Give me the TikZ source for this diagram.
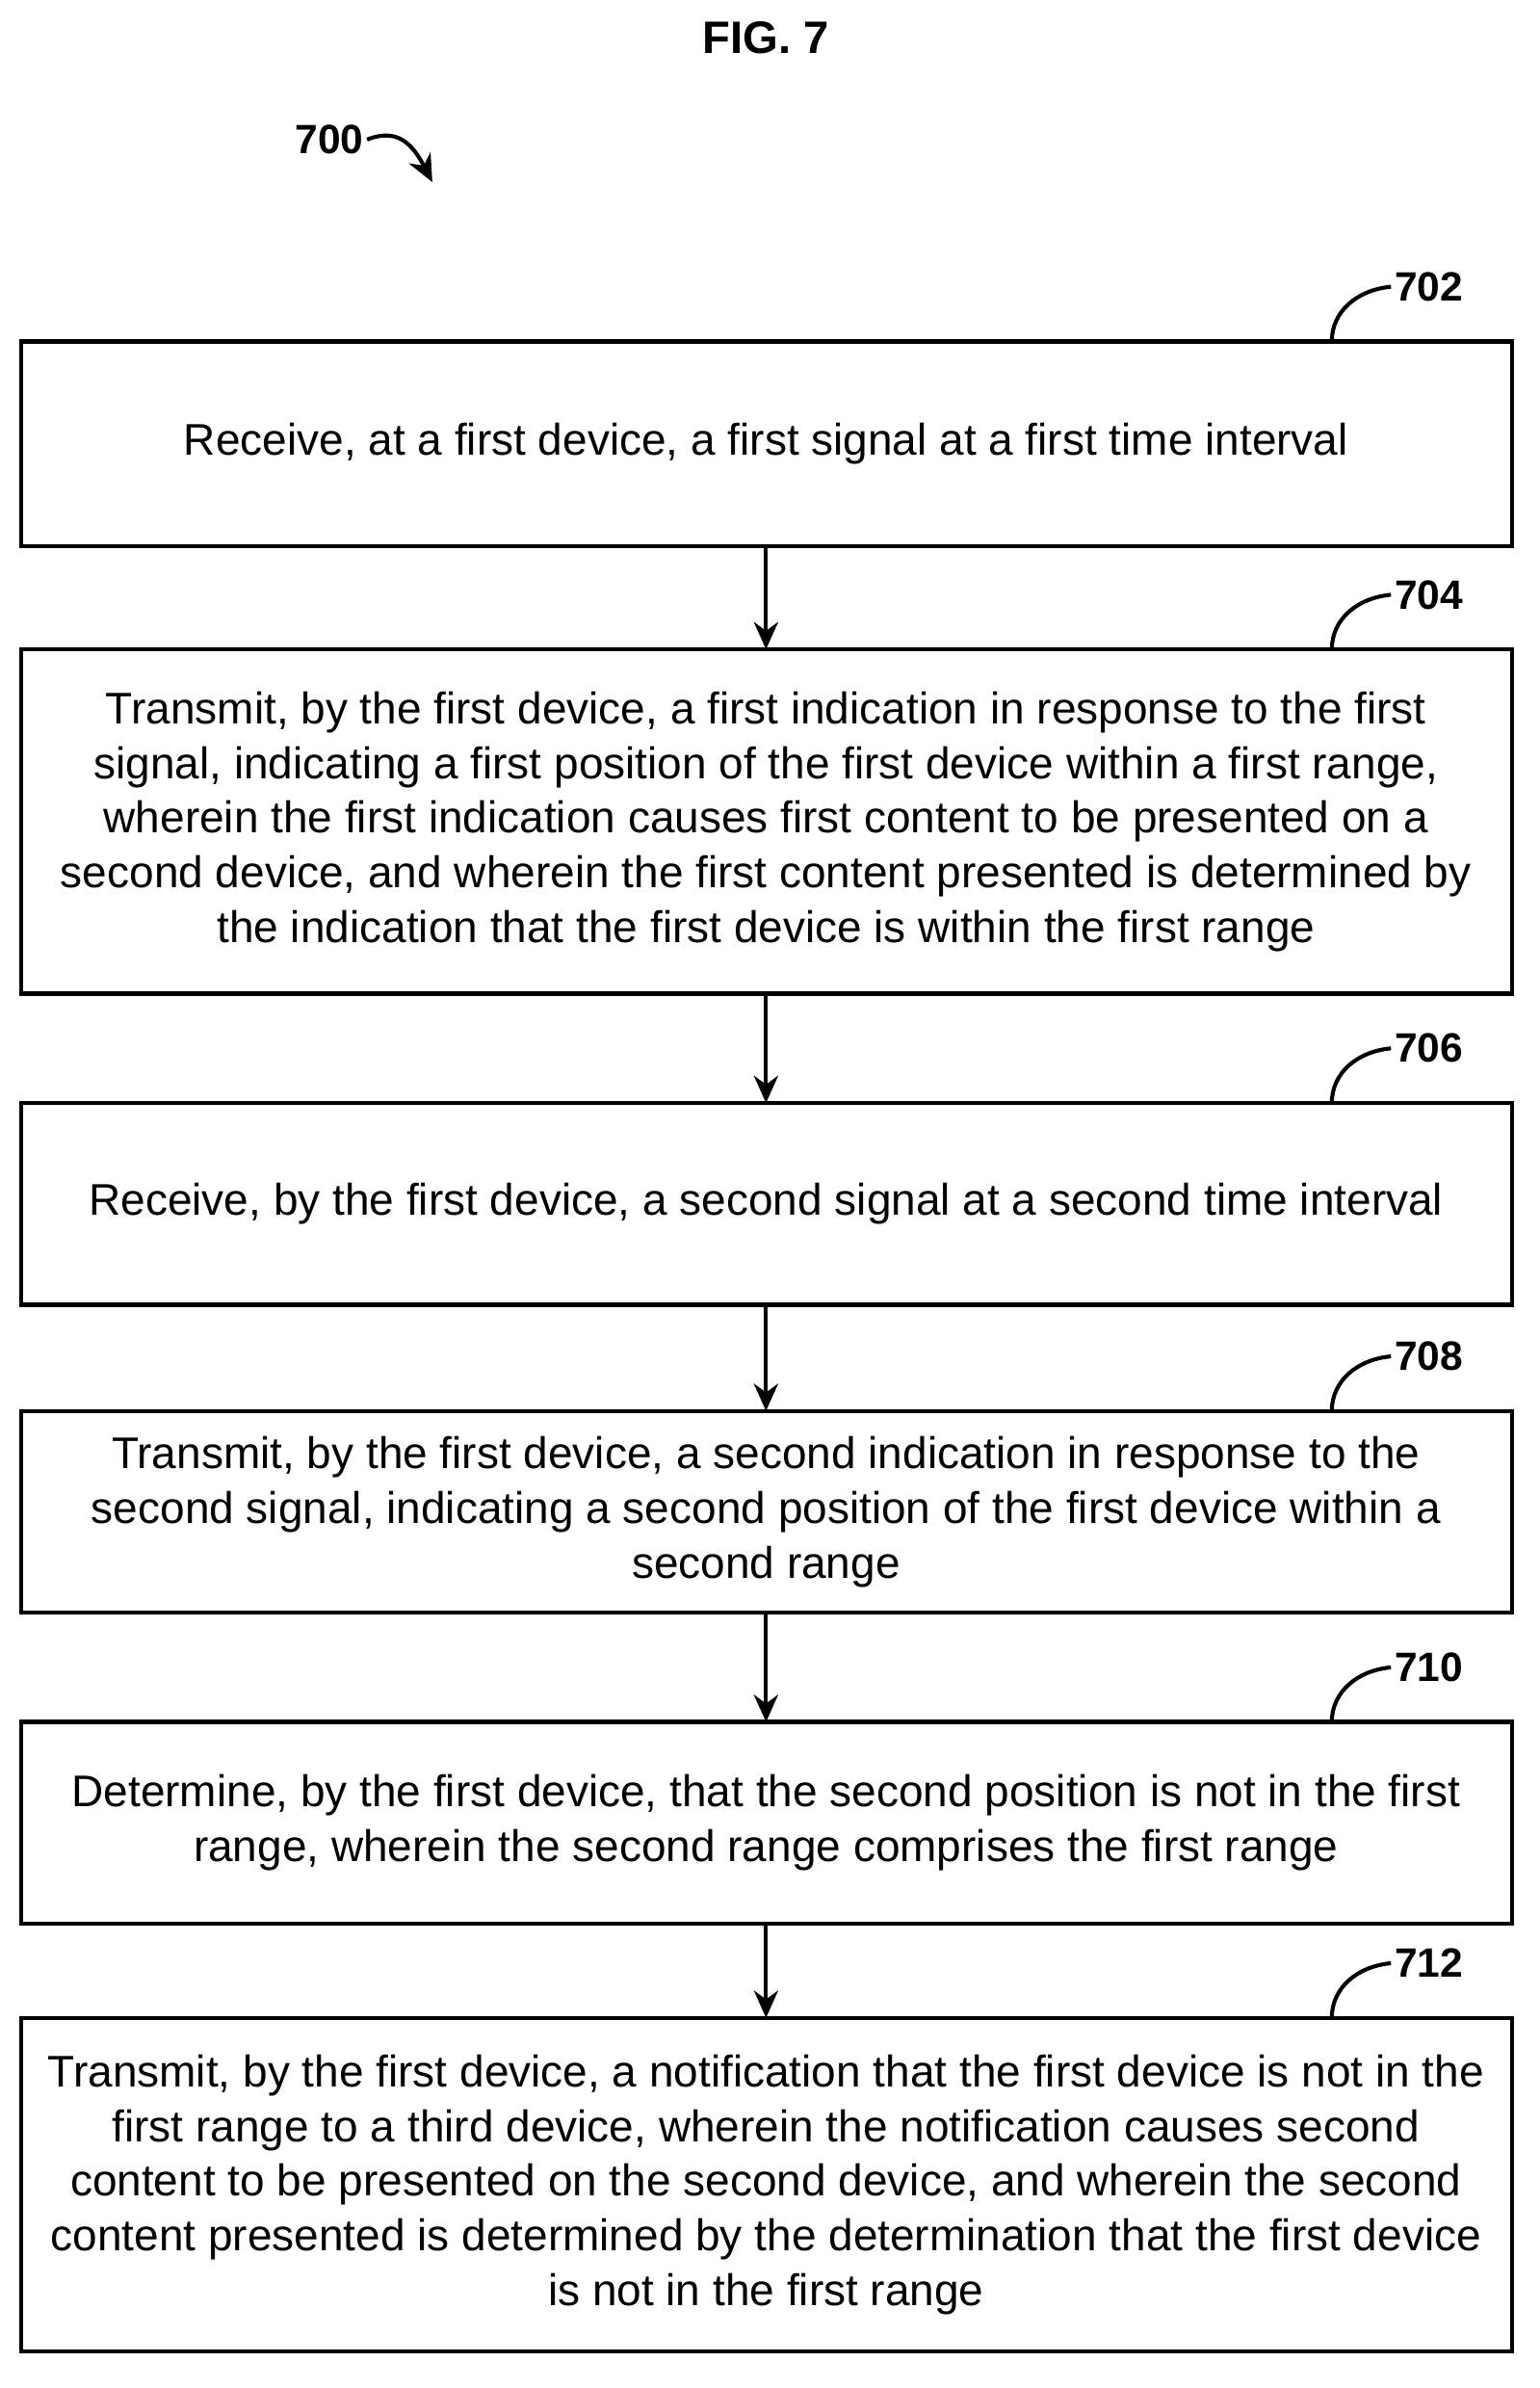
\documentclass[tikz,border=0pt]{standalone}
\usepackage{fontspec}
\setmainfont{Liberation Sans}
\usetikzlibrary{arrows.meta}
\begin{document}
\begin{tikzpicture}[x=0.5pt,y=-0.5pt,
  box/.style={draw,line width=1.4pt,inner sep=0pt},
  txt/.style={align=center,font=\fontsize{14.6}{18}\selectfont,inner sep=0pt},
  lab/.style={font=\bfseries\fontsize{13.5}{15}\selectfont,inner sep=1pt},
  arr/.style={line width=1.3pt,-{Stealth[length=9pt,width=8pt]}},
  hook/.style={line width=1.3pt}]
\useasboundingbox (0,0) rectangle (1015,1574);
\node[font=\bfseries\fontsize{15}{18}\selectfont] (fig) at (505,25) {FIG. 7};
\node[lab,anchor=east] (n700) at (242,92) {700};
\coordinate (a700) at (285,120);
\draw[arr] (n700.east) .. controls (262,84) and (272,95) .. (a700);
\def\B#1#2#3#4{%
  \draw[box] (14,#2) rectangle (997,#3);
  \coordinate (b#1t) at (505,#2); \coordinate (b#1b) at (505,#3);
  \node[txt] (t#1) at (505,{(#2+#3)/2}) {#4};
  \node[lab,anchor=west] (l#1) at (917,{#2-36}) {#1};
  \coordinate (h#1) at (878,#2);
  \draw[hook] (h#1) .. controls (878,{#2-20}) and (895,{#2-34}) .. (l#1.west);}
\B{702}{225}{360}{Receive, at a first device, a first signal at a first time interval}
\B{704}{428}{655}{Transmit, by the first device, a first indication in response to the first\\ signal, indicating a first position of the first device within a first range,\\ wherein the first indication causes first content to be presented on a\\ second device, and wherein the first content presented is determined by\\ the indication that the first device is within the first range}
\B{706}{727}{860}{Receive, by the first device, a second signal at a second time interval}
\B{708}{930}{1063}{Transmit, by the first device, a second indication in response to the\\ second signal, indicating a second position of the first device within a\\ second range}
\B{710}{1135}{1268}{Determine, by the first device, that the second position is not in the first\\ range, wherein the second range comprises the first range}
\B{712}{1330}{1550}{Transmit, by the first device, a notification that the first device is not in the\\ first range to a third device, wherein the notification causes second\\ content to be presented on the second device, and wherein the second\\ content presented is determined by the determination that the first device\\ is not in the first range}
\draw[arr] (b702b) -- (b704t);
\draw[arr] (b704b) -- (b706t);
\draw[arr] (b706b) -- (b708t);
\draw[arr] (b708b) -- (b710t);
\draw[arr] (b710b) -- (b712t);
\end{tikzpicture}
\end{document}
